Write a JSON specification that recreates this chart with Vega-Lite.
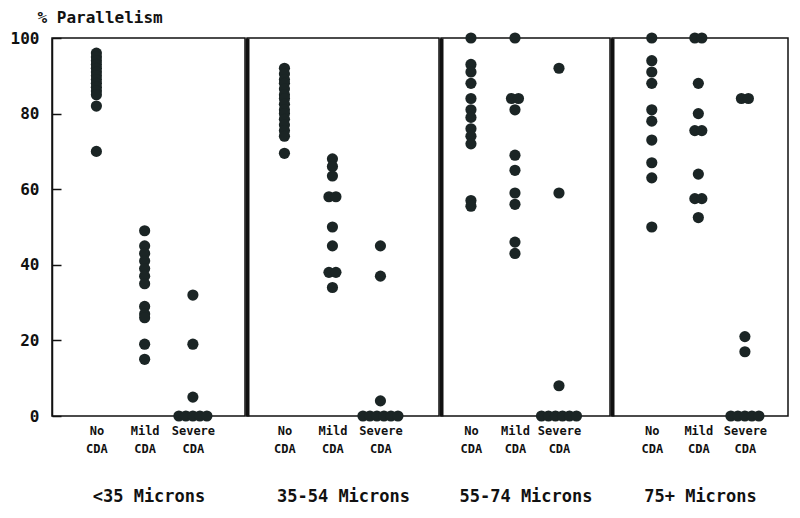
{
  "$schema": "https://vega.github.io/schema/vega-lite/v6.json",
  "background": "white",
  "padding": {"left": 9, "top": 8, "right": 5, "bottom": 5},
  "spacing": 0,
  "config": {
    "font": "DejaVu Sans Mono",
    "view": {"stroke": "#111", "strokeWidth": 1.5},
    "axis": {"labelColor": "#111", "titleColor": "#111", "labelFontWeight": "bold", "titleFontWeight": "bold", "grid": false},
    "axisX": {"domain": false, "ticks": false, "labelFontSize": 12, "labelLineHeight": 18, "labelPadding": 9, "labelAngle": 0, "labelExpr": "split(datum.label, ' ')", "titleFontSize": 17, "titlePadding": 34, "titleFontWeight": "bold"}
  },
  "data": {"values": [
    {"size": "<35 Microns", "cda": "No CDA", "pct": 96},
    {"size": "<35 Microns", "cda": "No CDA", "pct": 95},
    {"size": "<35 Microns", "cda": "No CDA", "pct": 94},
    {"size": "<35 Microns", "cda": "No CDA", "pct": 93},
    {"size": "<35 Microns", "cda": "No CDA", "pct": 92},
    {"size": "<35 Microns", "cda": "No CDA", "pct": 91},
    {"size": "<35 Microns", "cda": "No CDA", "pct": 90},
    {"size": "<35 Microns", "cda": "No CDA", "pct": 89},
    {"size": "<35 Microns", "cda": "No CDA", "pct": 88},
    {"size": "<35 Microns", "cda": "No CDA", "pct": 87},
    {"size": "<35 Microns", "cda": "No CDA", "pct": 86},
    {"size": "<35 Microns", "cda": "No CDA", "pct": 85},
    {"size": "<35 Microns", "cda": "No CDA", "pct": 82},
    {"size": "<35 Microns", "cda": "No CDA", "pct": 70},
    {"size": "<35 Microns", "cda": "Mild CDA", "pct": 49},
    {"size": "<35 Microns", "cda": "Mild CDA", "pct": 45},
    {"size": "<35 Microns", "cda": "Mild CDA", "pct": 43},
    {"size": "<35 Microns", "cda": "Mild CDA", "pct": 41},
    {"size": "<35 Microns", "cda": "Mild CDA", "pct": 39},
    {"size": "<35 Microns", "cda": "Mild CDA", "pct": 37},
    {"size": "<35 Microns", "cda": "Mild CDA", "pct": 35},
    {"size": "<35 Microns", "cda": "Mild CDA", "pct": 29},
    {"size": "<35 Microns", "cda": "Mild CDA", "pct": 27},
    {"size": "<35 Microns", "cda": "Mild CDA", "pct": 26},
    {"size": "<35 Microns", "cda": "Mild CDA", "pct": 19},
    {"size": "<35 Microns", "cda": "Mild CDA", "pct": 15},
    {"size": "<35 Microns", "cda": "Severe CDA", "pct": 32},
    {"size": "<35 Microns", "cda": "Severe CDA", "pct": 19},
    {"size": "<35 Microns", "cda": "Severe CDA", "pct": 5},
    {"size": "<35 Microns", "cda": "Severe CDA", "pct": 0},
    {"size": "<35 Microns", "cda": "Severe CDA", "pct": 0},
    {"size": "<35 Microns", "cda": "Severe CDA", "pct": 0},
    {"size": "<35 Microns", "cda": "Severe CDA", "pct": 0},
    {"size": "<35 Microns", "cda": "Severe CDA", "pct": 0},
    {"size": "35-54 Microns", "cda": "No CDA", "pct": 92},
    {"size": "35-54 Microns", "cda": "No CDA", "pct": 90.5},
    {"size": "35-54 Microns", "cda": "No CDA", "pct": 89},
    {"size": "35-54 Microns", "cda": "No CDA", "pct": 88},
    {"size": "35-54 Microns", "cda": "No CDA", "pct": 86.5},
    {"size": "35-54 Microns", "cda": "No CDA", "pct": 85},
    {"size": "35-54 Microns", "cda": "No CDA", "pct": 84},
    {"size": "35-54 Microns", "cda": "No CDA", "pct": 82.5},
    {"size": "35-54 Microns", "cda": "No CDA", "pct": 81},
    {"size": "35-54 Microns", "cda": "No CDA", "pct": 80},
    {"size": "35-54 Microns", "cda": "No CDA", "pct": 78.5},
    {"size": "35-54 Microns", "cda": "No CDA", "pct": 77},
    {"size": "35-54 Microns", "cda": "No CDA", "pct": 75.5},
    {"size": "35-54 Microns", "cda": "No CDA", "pct": 74},
    {"size": "35-54 Microns", "cda": "No CDA", "pct": 69.5},
    {"size": "35-54 Microns", "cda": "Mild CDA", "pct": 68},
    {"size": "35-54 Microns", "cda": "Mild CDA", "pct": 66},
    {"size": "35-54 Microns", "cda": "Mild CDA", "pct": 63.5},
    {"size": "35-54 Microns", "cda": "Mild CDA", "pct": 58},
    {"size": "35-54 Microns", "cda": "Mild CDA", "pct": 58},
    {"size": "35-54 Microns", "cda": "Mild CDA", "pct": 50},
    {"size": "35-54 Microns", "cda": "Mild CDA", "pct": 45},
    {"size": "35-54 Microns", "cda": "Mild CDA", "pct": 38},
    {"size": "35-54 Microns", "cda": "Mild CDA", "pct": 38},
    {"size": "35-54 Microns", "cda": "Mild CDA", "pct": 34},
    {"size": "35-54 Microns", "cda": "Severe CDA", "pct": 45},
    {"size": "35-54 Microns", "cda": "Severe CDA", "pct": 37},
    {"size": "35-54 Microns", "cda": "Severe CDA", "pct": 4},
    {"size": "35-54 Microns", "cda": "Severe CDA", "pct": 0},
    {"size": "35-54 Microns", "cda": "Severe CDA", "pct": 0},
    {"size": "35-54 Microns", "cda": "Severe CDA", "pct": 0},
    {"size": "35-54 Microns", "cda": "Severe CDA", "pct": 0},
    {"size": "35-54 Microns", "cda": "Severe CDA", "pct": 0},
    {"size": "35-54 Microns", "cda": "Severe CDA", "pct": 0},
    {"size": "55-74 Microns", "cda": "No CDA", "pct": 100},
    {"size": "55-74 Microns", "cda": "No CDA", "pct": 93},
    {"size": "55-74 Microns", "cda": "No CDA", "pct": 91},
    {"size": "55-74 Microns", "cda": "No CDA", "pct": 88},
    {"size": "55-74 Microns", "cda": "No CDA", "pct": 84},
    {"size": "55-74 Microns", "cda": "No CDA", "pct": 81},
    {"size": "55-74 Microns", "cda": "No CDA", "pct": 79},
    {"size": "55-74 Microns", "cda": "No CDA", "pct": 76},
    {"size": "55-74 Microns", "cda": "No CDA", "pct": 74},
    {"size": "55-74 Microns", "cda": "No CDA", "pct": 72},
    {"size": "55-74 Microns", "cda": "No CDA", "pct": 57},
    {"size": "55-74 Microns", "cda": "No CDA", "pct": 55.5},
    {"size": "55-74 Microns", "cda": "Mild CDA", "pct": 100},
    {"size": "55-74 Microns", "cda": "Mild CDA", "pct": 84},
    {"size": "55-74 Microns", "cda": "Mild CDA", "pct": 84},
    {"size": "55-74 Microns", "cda": "Mild CDA", "pct": 81},
    {"size": "55-74 Microns", "cda": "Mild CDA", "pct": 69},
    {"size": "55-74 Microns", "cda": "Mild CDA", "pct": 65},
    {"size": "55-74 Microns", "cda": "Mild CDA", "pct": 59},
    {"size": "55-74 Microns", "cda": "Mild CDA", "pct": 56},
    {"size": "55-74 Microns", "cda": "Mild CDA", "pct": 46},
    {"size": "55-74 Microns", "cda": "Mild CDA", "pct": 43},
    {"size": "55-74 Microns", "cda": "Severe CDA", "pct": 92},
    {"size": "55-74 Microns", "cda": "Severe CDA", "pct": 59},
    {"size": "55-74 Microns", "cda": "Severe CDA", "pct": 8},
    {"size": "55-74 Microns", "cda": "Severe CDA", "pct": 0},
    {"size": "55-74 Microns", "cda": "Severe CDA", "pct": 0},
    {"size": "55-74 Microns", "cda": "Severe CDA", "pct": 0},
    {"size": "55-74 Microns", "cda": "Severe CDA", "pct": 0},
    {"size": "55-74 Microns", "cda": "Severe CDA", "pct": 0},
    {"size": "55-74 Microns", "cda": "Severe CDA", "pct": 0},
    {"size": "75+ Microns", "cda": "No CDA", "pct": 100},
    {"size": "75+ Microns", "cda": "No CDA", "pct": 94},
    {"size": "75+ Microns", "cda": "No CDA", "pct": 91},
    {"size": "75+ Microns", "cda": "No CDA", "pct": 88},
    {"size": "75+ Microns", "cda": "No CDA", "pct": 81},
    {"size": "75+ Microns", "cda": "No CDA", "pct": 78},
    {"size": "75+ Microns", "cda": "No CDA", "pct": 73},
    {"size": "75+ Microns", "cda": "No CDA", "pct": 67},
    {"size": "75+ Microns", "cda": "No CDA", "pct": 63},
    {"size": "75+ Microns", "cda": "No CDA", "pct": 50},
    {"size": "75+ Microns", "cda": "Mild CDA", "pct": 100},
    {"size": "75+ Microns", "cda": "Mild CDA", "pct": 100},
    {"size": "75+ Microns", "cda": "Mild CDA", "pct": 88},
    {"size": "75+ Microns", "cda": "Mild CDA", "pct": 80},
    {"size": "75+ Microns", "cda": "Mild CDA", "pct": 75.5},
    {"size": "75+ Microns", "cda": "Mild CDA", "pct": 75.5},
    {"size": "75+ Microns", "cda": "Mild CDA", "pct": 64},
    {"size": "75+ Microns", "cda": "Mild CDA", "pct": 57.5},
    {"size": "75+ Microns", "cda": "Mild CDA", "pct": 57.5},
    {"size": "75+ Microns", "cda": "Mild CDA", "pct": 52.5},
    {"size": "75+ Microns", "cda": "Severe CDA", "pct": 84},
    {"size": "75+ Microns", "cda": "Severe CDA", "pct": 84},
    {"size": "75+ Microns", "cda": "Severe CDA", "pct": 21},
    {"size": "75+ Microns", "cda": "Severe CDA", "pct": 17},
    {"size": "75+ Microns", "cda": "Severe CDA", "pct": 0},
    {"size": "75+ Microns", "cda": "Severe CDA", "pct": 0},
    {"size": "75+ Microns", "cda": "Severe CDA", "pct": 0},
    {"size": "75+ Microns", "cda": "Severe CDA", "pct": 0},
    {"size": "75+ Microns", "cda": "Severe CDA", "pct": 0}
  ]},
  "transform": [
    {"window": [{"op": "row_number", "as": "k"}], "groupby": ["size", "cda", "pct"]},
    {"joinaggregate": [{"op": "count", "as": "n"}], "groupby": ["size", "cda", "pct"]},
    {"calculate": "datum.k - (datum.n + 1) / 2", "as": "off"}
  ],
  "hconcat": [
    {
      "width": 193, "height": 378,
      "transform": [{"filter": "datum.size === '<35 Microns'"}],
      "mark": {"type": "circle", "size": 125, "opacity": 1, "color": "#1b2525"},
      "encoding": {
        "x": {"field": "cda", "type": "ordinal", "sort": ["No CDA", "Mild CDA", "Severe CDA"], "scale": {"type": "point", "padding": 1.03, "align": 0.46}, "axis": {"title": "<35 Microns"}},
        "xOffset": {"field": "off", "type": "quantitative", "scale": {"domain": [-1, 1], "range": [-7, 7]}},
        "y": {"field": "pct", "type": "quantitative", "scale": {"domain": [0, 100], "nice": false}, "axis": {"values": [0, 20, 40, 60, 80, 100], "title": "% Parallelism", "titleAngle": 0, "titleAlign": "left", "titleBaseline": "middle", "titleX": -15, "titleY": -21, "titleFontSize": 16, "labelFontSize": 16, "tickSize": -9, "tickColor": "#111", "tickWidth": 1.5, "labelPadding": 22, "domainColor": "#111", "domainWidth": 1.5}}
      }
    },
    {
      "width": 192, "height": 378,
      "transform": [{"filter": "datum.size === '35-54 Microns'"}],
      "mark": {"type": "circle", "size": 125, "opacity": 1, "color": "#1b2525"},
      "encoding": {
        "x": {"field": "cda", "type": "ordinal", "sort": ["No CDA", "Mild CDA", "Severe CDA"], "scale": {"type": "point", "padding": 1.02, "align": 0.39}, "axis": {"title": "35-54 Microns"}},
        "xOffset": {"field": "off", "type": "quantitative", "scale": {"domain": [-1, 1], "range": [-7, 7]}},
        "y": {"field": "pct", "type": "quantitative", "scale": {"domain": [0, 100], "nice": false}, "axis": {"title": null, "labels": false, "ticks": false, "domainColor": "#111", "domainWidth": 4}}
      }
    },
    {
      "width": 169, "height": 378,
      "transform": [{"filter": "datum.size === '55-74 Microns'"}],
      "mark": {"type": "circle", "size": 125, "opacity": 1, "color": "#1b2525"},
      "encoding": {
        "x": {"field": "cda", "type": "ordinal", "sort": ["No CDA", "Mild CDA", "Severe CDA"], "scale": {"type": "point", "padding": 0.92, "align": 0.37}, "axis": {"title": "55-74 Microns"}},
        "xOffset": {"field": "off", "type": "quantitative", "scale": {"domain": [-1, 1], "range": [-7, 7]}},
        "y": {"field": "pct", "type": "quantitative", "scale": {"domain": [0, 100], "nice": false}, "axis": {"title": null, "labels": false, "ticks": false, "domainColor": "#111", "domainWidth": 4}}
      }
    },
    {
      "width": 176, "height": 378,
      "transform": [{"filter": "datum.size === '75+ Microns'"}],
      "mark": {"type": "circle", "size": 125, "opacity": 1, "color": "#1b2525"},
      "encoding": {
        "x": {"field": "cda", "type": "ordinal", "sort": ["No CDA", "Mild CDA", "Severe CDA"], "scale": {"type": "point", "padding": 0.89, "align": 0.48}, "axis": {"title": "75+ Microns"}},
        "xOffset": {"field": "off", "type": "quantitative", "scale": {"domain": [-1, 1], "range": [-7, 7]}},
        "y": {"field": "pct", "type": "quantitative", "scale": {"domain": [0, 100], "nice": false}, "axis": {"title": null, "labels": false, "ticks": false, "domainColor": "#111", "domainWidth": 4}}
      }
    }
  ]
}
